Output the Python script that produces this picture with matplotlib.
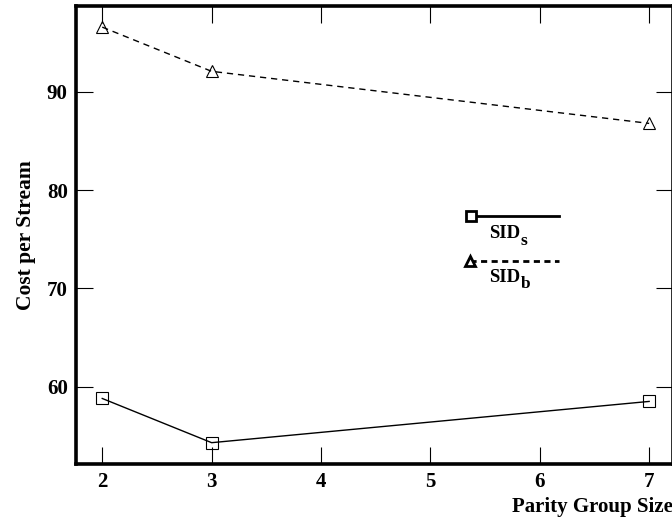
import matplotlib
matplotlib.use("Agg")
import matplotlib.pyplot as plt
from matplotlib.lines import Line2D

group_size = [2, 3, 7]
sid_s = [58.8, 54.3, 58.5]
sid_b = [96.6, 92.1, 86.8]
x_ticks = [2, 3, 4, 5, 6, 7]
y_ticks = [60, 70, 80, 90]

plt.rcParams['font.family'] = ['Liberation Serif', 'DejaVu Serif']
plt.rcParams['font.weight'] = 'bold'

fig = plt.figure(figsize=(6.72, 5.19), dpi=100)
ax = fig.add_axes([76/672, 55/519, 1 - 76/672 + 0.001, (464-6)/519])

ax.plot(group_size, sid_s, color='black', lw=1.0, marker='s', ms=8.5,
        mfc='none', mec='black', mew=0.8)
ax.plot(group_size, sid_b, color='black', lw=1.0, dashes=(4.5, 3.5),
        marker='^', ms=9, mfc='none', mec='black', mew=0.8)

ax.set_xlim(1.76, 7.215)
ax.set_ylim(52.13, 98.75)
ax.set_xticks(x_ticks)
ax.set_yticks(y_ticks)
ax.tick_params(direction='in', length=12, width=0.8, top=True, right=True,
               labelsize=15, pad=6)
ax.tick_params(axis='x', pad=6)
for lab in ax.get_xticklabels() + ax.get_yticklabels():
    lab.set_fontweight('bold')
for s in ax.spines.values():
    s.set_linewidth(2.6)

ax.set_xlabel('Parity Group Size', fontsize=15, fontweight='bold', loc='right', labelpad=3.5)
ax.set_ylabel('Cost per Stream', fontsize=15.5, fontweight='bold', labelpad=8)

# legend drawn manually (marker, line, label beneath)
def fx(px):
    return (px - 76) / (672 - 76)
def fy(py):
    return (464 - py) / (464 - 6)

ax.add_line(Line2D([fx(471), fx(558)], [fy(216), fy(216)], transform=ax.transAxes,
                   color='black', lw=2.0))
ax.add_line(Line2D([fx(471)], [fy(216)], transform=ax.transAxes, marker='s', ms=7,
                   mfc='white', mec='black', mew=2.0, color='black'))
ax.text(fx(489), fy(234), 'SID', transform=ax.transAxes, fontsize=13.5,
        fontweight='bold', va='center', ha='left')
ax.text(fx(520), fy(241), 's', transform=ax.transAxes, fontsize=12.5,
        fontweight='bold', va='center', ha='left')
ax.add_line(Line2D([fx(470), fx(558)], [fy(261), fy(261)], transform=ax.transAxes,
                   color='black', lw=2.0, dashes=(2.2, 1.6)))
ax.add_line(Line2D([fx(470)], [fy(261)], transform=ax.transAxes, marker='^', ms=7,
                   mfc='white', mec='black', mew=2.0, color='black'))
ax.text(fx(489), fy(278), 'SID', transform=ax.transAxes, fontsize=13.5,
        fontweight='bold', va='center', ha='left')
ax.text(fx(520), fy(284), 'b', transform=ax.transAxes, fontsize=12.5,
        fontweight='bold', va='center', ha='left')

fig.savefig('out.png', dpi=100)
